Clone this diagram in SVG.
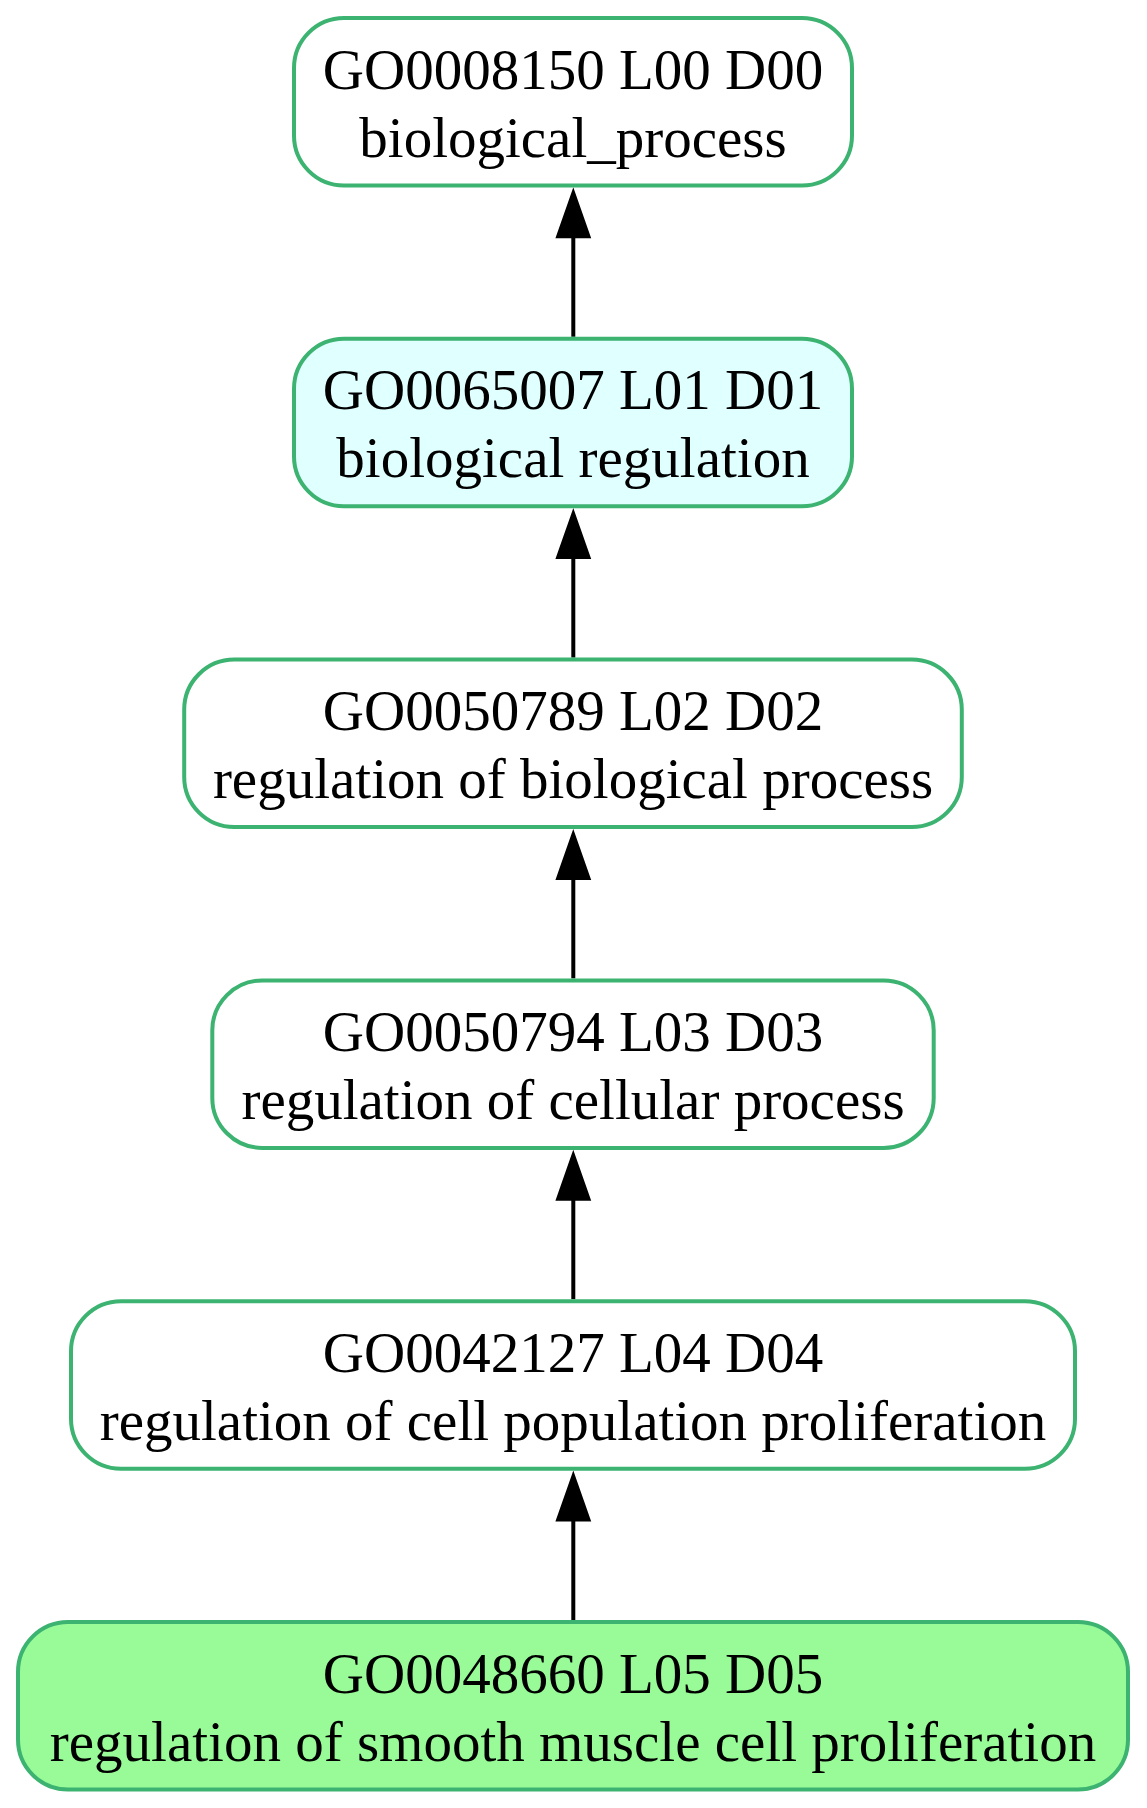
<svg xmlns="http://www.w3.org/2000/svg" width="1147" height="1808" viewBox="0 0 1147 1808">
<style>
.node rect{stroke:#3CB371;stroke-width:4;fill:#ffffff}
.node text{font-family:"Liberation Serif","Times New Roman",serif;font-size:57px;fill:#000;text-anchor:middle}
.edge line{stroke:#000;stroke-width:4}
.edge polygon{fill:#000;stroke:#000;stroke-width:2}
</style>
<rect x="0" y="0" width="1147" height="1808" fill="#ffffff"/>
<g id="connectors">
<g class="edge"><line x1="573.3" y1="336.8" x2="573.3" y2="236"/><polygon points="573.3,190.3 556.8,237.3 589.8,237.3"/></g>
<g class="edge"><line x1="573.3" y1="657.6" x2="573.3" y2="556.8"/><polygon points="573.3,511.1 556.8,558.1 589.8,558.1"/></g>
<g class="edge"><line x1="573.3" y1="978.4" x2="573.3" y2="877.6"/><polygon points="573.3,831.9 556.8,878.9 589.8,878.9"/></g>
<g class="edge"><line x1="573.3" y1="1299.2" x2="573.3" y2="1198.4"/><polygon points="573.3,1152.7 556.8,1199.7 589.8,1199.7"/></g>
<g class="edge"><line x1="573.3" y1="1620" x2="573.3" y2="1519.2"/><polygon points="573.3,1473.5 556.8,1520.5 589.8,1520.5"/></g>
</g>
<g id="GO0008150" class="node">
<rect x="294" y="18" width="558" height="167.5" rx="50" ry="50"/>
<text x="573" y="88.5">GO0008150 L00 D00</text>
<text x="573" y="156.5">biological_process</text>
</g>
<g id="GO0065007" class="node">
<rect x="294" y="338.8" width="558" height="167.5" rx="50" ry="50" style="fill:#E0FFFF"/>
<text x="573" y="409.3">GO0065007 L01 D01</text>
<text x="573" y="477.3">biological regulation</text>
</g>
<g id="GO0050789" class="node">
<rect x="184.2" y="659.6" width="777.6" height="167.5" rx="50" ry="50"/>
<text x="573" y="730.1">GO0050789 L02 D02</text>
<text x="573" y="798.1">regulation of biological process</text>
</g>
<g id="GO0050794" class="node">
<rect x="212.3" y="980.4" width="721.4" height="167.5" rx="50" ry="50"/>
<text x="573" y="1050.9">GO0050794 L03 D03</text>
<text x="573" y="1118.9">regulation of cellular process</text>
</g>
<g id="GO0042127" class="node">
<rect x="71" y="1301.2" width="1004" height="167.5" rx="50" ry="50"/>
<text x="573" y="1371.7">GO0042127 L04 D04</text>
<text x="573" y="1439.7">regulation of cell population proliferation</text>
</g>
<g id="GO0048660" class="node">
<rect x="18" y="1622" width="1110" height="167.5" rx="50" ry="50" style="fill:#98FB98"/>
<text x="573" y="1692.5">GO0048660 L05 D05</text>
<text x="573" y="1760.5">regulation of smooth muscle cell proliferation</text>
</g>
</svg>
